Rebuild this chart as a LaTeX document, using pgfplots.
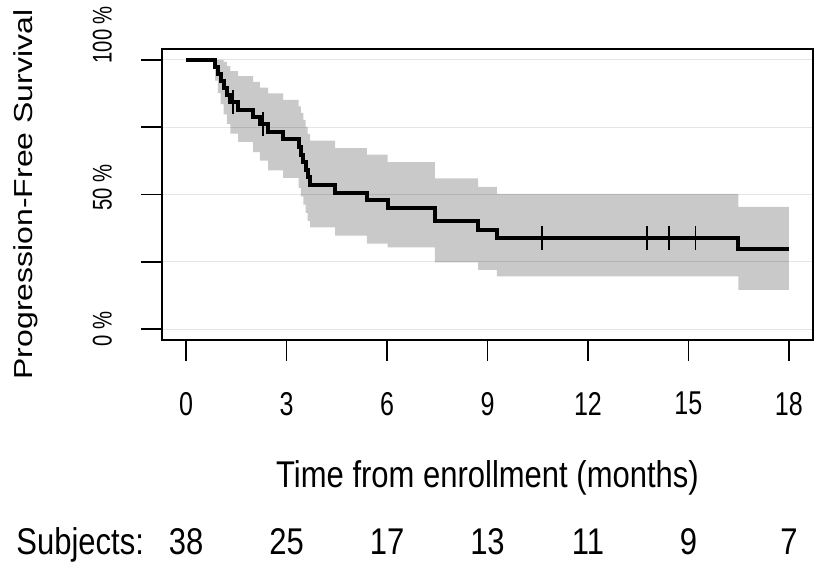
\documentclass[border=0pt]{standalone}
\usepackage{graphicx}
\usepackage{pgfplots}
\pgfplotsset{compat=1.18}
\usepgfplotslibrary{fillbetween}
\usepackage{fontspec}
\setmainfont{Liberation Sans}

\newcommand\tickfont{\fontsize{16.5}{18}\selectfont}
\newcommand\labfont{\fontsize{15.5}{18}\selectfont}
\newcommand\tall[1]{\scalebox{1}[1.2]{#1}}

\begin{document}
\begin{tikzpicture}
\begin{axis}[
    name=ax,
    scale only axis,
    width=325.5pt, height=145.5pt,
    xmin=-0.72, xmax=18.72,
    ymin=-4, ymax=104,
    xtick={0,3,6,9,12,15,18},
    ytick={0,25,50,75,100},
    xticklabel={\scalebox{0.76}[1]{\pgfmathprintnumber{\tick}}},
    yticklabels={\scalebox{0.75}[1]{0 \%},,\hspace*{7pt}\scalebox{0.75}[1]{50 \%},,\hspace*{25pt}\scalebox{0.75}[1]{100 \%}},
    /pgf/number format/assume math mode=true,
    tick align=outside,
    xtick pos=bottom, ytick pos=left,
    major tick length=10.5pt,
    every tick/.style={black, line width=0.8pt},
    axis line style={line width=0.8pt},
    ymajorgrids=true,
    grid style={gray!20, line width=0.6pt},
    xticklabel style={font=\tickfont, anchor=north},
    xticklabel shift=12pt,
    yticklabel style={font=\fontsize{13.5}{15}\selectfont, rotate=90, anchor=south},
    yticklabel shift=11pt,
    xlabel={\tall{Time from enrollment (months)}},
    xlabel style={font=\labfont, at={(axis description cs:0.5,-0.474)}, anchor=center},
    ylabel={\scalebox{1.23}[1]{Progression-Free Survival}},
    ylabel style={font=\fontsize{13}{15}\selectfont, at={(axis description cs:-0.209,0.5)}, anchor=center},
    clip=false,
]

% 95% band, upper and lower edges
\addplot[const plot, draw=none, name path=up] coordinates {
    (0,100) (0.87,100) (0.95,100) (1.03,100) (1.12,99.2) (1.22,97.6)
    (1.32,95.8) (1.55,93.9) (2.0,91.8) (2.2,89.7) (2.45,87.5) (2.9,85.1)
    (3.36,82.7) (3.43,80.3) (3.50,77.7) (3.57,75.1) (3.63,72.5) (3.70,70.0)
    (4.45,67.2) (5.40,64.8) (6.02,62.0) (7.43,56.0) (8.72,52.8) (9.28,50.2)
    (16.49,45.4) (18.0,45.4)
};
\addplot[const plot, draw=none, name path=lo] coordinates {
    (0,100) (0.87,92.3) (0.95,87.6) (1.03,83.5) (1.12,79.7) (1.22,76.1)
    (1.32,72.6) (1.55,69.5) (2.0,65.7) (2.2,62.6) (2.45,59.0) (2.9,56.2)
    (3.36,52.5) (3.43,49.3) (3.50,46.2) (3.57,43.2) (3.63,40.2) (3.70,37.8)
    (4.45,34.7) (5.40,31.8) (6.02,30.4) (7.43,24.8) (8.72,22.0) (9.28,19.6)
    (16.49,14.6) (18.0,14.6)
};
\addplot[fill=black, fill opacity=0.21, draw=none] fill between[of=up and lo];

% Kaplan-Meier estimate
\addplot[const plot, black, line width=2pt] coordinates {
    (0,100) (0.87,97.37) (0.95,94.74) (1.03,92.11) (1.12,89.47) (1.22,86.84)
    (1.32,84.21) (1.55,81.49) (2.0,78.78) (2.2,76.06) (2.45,73.24) (2.9,70.43)
    (3.36,67.61) (3.43,64.79) (3.50,61.98) (3.57,59.16) (3.63,56.34) (3.70,53.53)
    (4.45,50.71) (5.40,47.89) (6.02,45.08) (7.43,40.0) (8.72,37.0) (9.28,33.9)
    (16.49,29.8) (18.0,29.8)
};

% censored
\addplot[only marks, mark=|, mark size=6pt, black, line width=0.8pt] coordinates {
    (1.40,84.21) (2.30,76.06) (10.62,33.9) (13.77,33.9) (14.42,33.9) (15.21,33.9)
};

% numbers at risk
\node[anchor=base east, font=\labfont] at (axis cs:-1.05,-83.5) {\tall{Subjects:}};
\node[anchor=base, font=\labfont] at (axis cs:0,-83.5) {\tall{38}};
\node[anchor=base, font=\labfont] at (axis cs:3,-83.5) {\tall{25}};
\node[anchor=base, font=\labfont] at (axis cs:6,-83.5) {\tall{17}};
\node[anchor=base, font=\labfont] at (axis cs:9,-83.5) {\tall{13}};
\node[anchor=base, font=\labfont] at (axis cs:12,-83.5) {\tall{11}};
\node[anchor=base, font=\labfont] at (axis cs:15,-83.5) {\tall{9}};
\node[anchor=base, font=\labfont] at (axis cs:18,-83.5) {\tall{7}};
\end{axis}
\pgfresetboundingbox
\path ([xshift=-81pt,yshift=-112pt]ax.south west) rectangle ([xshift=0.5pt,yshift=24.5pt]ax.north east);
\end{tikzpicture}
\end{document}
